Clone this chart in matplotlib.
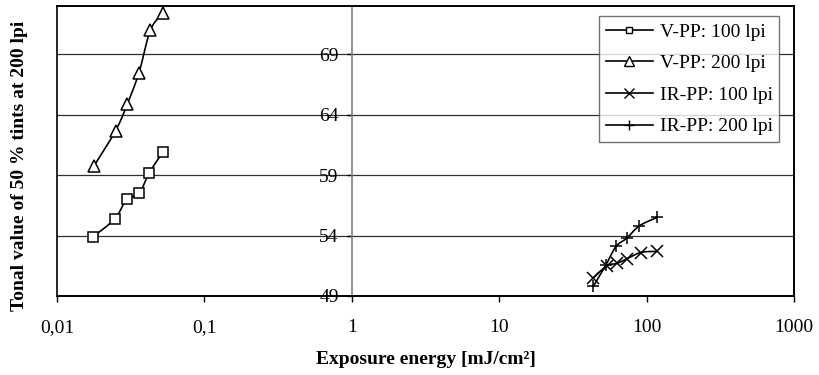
import numpy as np
import matplotlib.pyplot as plt
from matplotlib.patches import Rectangle

plt.rcParams['font.family'] = ['Liberation Serif', 'DejaVu Serif']

# Belichtungsenergie [mJ/cm²] und Tonwert je Serie
vpp_100_x = [0.0176, 0.0247, 0.0297, 0.036, 0.0423, 0.0521]
vpp_100_y = [53.9, 55.4, 57.0, 57.5, 59.2, 60.9]
vpp_200_x = [0.0179, 0.025, 0.030, 0.036, 0.043, 0.052]
vpp_200_y = [59.8, 62.7, 64.9, 67.5, 71.0, 72.4]
irpp_100_x = [43.5, 53.6, 62.7, 74.0, 91.2, 117.0]
irpp_100_y = [50.5, 51.5, 51.7, 52.1, 52.6, 52.7]
irpp_200_x = [43.5, 53.0, 62.0, 73.5, 89.0, 117.0]
irpp_200_y = [49.8, 51.6, 53.1, 53.8, 54.8, 55.5]

x_ticks = [0.01, 0.1, 1, 10, 100, 1000]
x_tick_labels = ['0,01', '0,1', '1', '10', '100', '1000']
y_ticks = [49, 54, 59, 64, 69]


def smooth(x, y, n=20):
    # Catmull-Rom Kurve im log-x Raum (wie geglättete Linien in Excel)
    lx = np.log10(x)
    y = np.asarray(y, float)
    px = np.concatenate([[2 * lx[0] - lx[1]], lx, [2 * lx[-1] - lx[-2]]])
    py = np.concatenate([[2 * y[0] - y[1]], y, [2 * y[-1] - y[-2]]])
    ox, oy = [], []
    t = np.linspace(0, 1, n)
    for i in range(1, len(px) - 2):
        for p, o in ((px, ox), (py, oy)):
            p0, p1, p2, p3 = p[i - 1], p[i], p[i + 1], p[i + 2]
            o.extend(0.5 * (2 * p1 + (-p0 + p2) * t
                            + (2 * p0 - 5 * p1 + 4 * p2 - p3) * t ** 2
                            + (-p0 + 3 * p1 - 3 * p2 + p3) * t ** 3))
    return 10 ** np.array(ox), np.array(oy)


fig = plt.figure(figsize=(8.19, 3.75), dpi=100)
ax = fig.add_axes([0.0696, 0.2107, 0.9, 0.773])

# (x, y, Marker, Markergröße, Legendengröße, Name)
series = [
    (vpp_100_x, vpp_100_y, 's', 7, 5, 'V-PP: 100 lpi'),
    (vpp_200_x, vpp_200_y, '^', 8, 6.5, 'V-PP: 200 lpi'),
    (irpp_100_x, irpp_100_y, 'x', 8, 6.5, 'IR-PP: 100 lpi'),
    (irpp_200_x, irpp_200_y, '+', 8, 7, 'IR-PP: 200 lpi'),
]
for x, y, m, ms, ms_leg, lab in series:
    sx, sy = smooth(x, y)
    ax.plot(sx, sy, color='black', lw=1.2, zorder=3)
    ax.plot(x, y, ls='none', marker=m, ms=ms,
            mfc='white', mec='black', mew=1.1, zorder=4)
    ax.plot([], [], color='black', lw=1.2, marker=m, ms=ms_leg,
            mfc='white', mec='black', mew=1.0, label=lab)

ax.set_xscale('log')
ax.set_xlim(0.01, 1000)
ax.set_ylim(49, 73)
ax.set_xticks(x_ticks)
ax.set_xticklabels(x_tick_labels)
ax.xaxis.set_minor_locator(plt.NullLocator())
ax.set_yticks(y_ticks)
ax.yaxis.grid(True, color='#303030', lw=0.9)
ax.set_axisbelow(True)

# y-Achse kreuzt bei x = 1
ax.spines['left'].set_position(('data', 1))
ax.spines['left'].set_color('#808080')
ax.spines['left'].set_linewidth(1.2)
for s in ('top', 'right', 'bottom'):
    ax.spines[s].set_color('black')
    ax.spines[s].set_linewidth(1.2)
ax.add_patch(Rectangle((0, 0), 1, 1, transform=ax.transAxes, fill=False,
                       ec='black', lw=1.2, clip_on=False, zorder=5))

ax.tick_params(axis='x', direction='out', length=4, width=1, pad=12.5, labelsize=14)
ax.tick_params(axis='y', direction='out', length=3.5, width=1, pad=6, labelsize=14,
               color='black')

ax.set_xlabel('Exposure energy [mJ/cm²]', fontsize=14, fontweight='bold', labelpad=11)
fig.text(0.024, 0.557, 'Tonal value of 50 % tints at 200 lpi', rotation=90,
         fontsize=14, fontweight='bold', ha='center', va='center')

leg = ax.legend(loc='upper right', bbox_to_anchor=(0.98, 0.9655), fontsize=14,
                frameon=True, fancybox=False, edgecolor='#505050',
                handlelength=2.4, borderpad=0.35, labelspacing=0.72,
                handletextpad=0.35, borderaxespad=0)
leg.get_frame().set_linewidth(1.0)

fig.savefig('out.png', dpi=100)
